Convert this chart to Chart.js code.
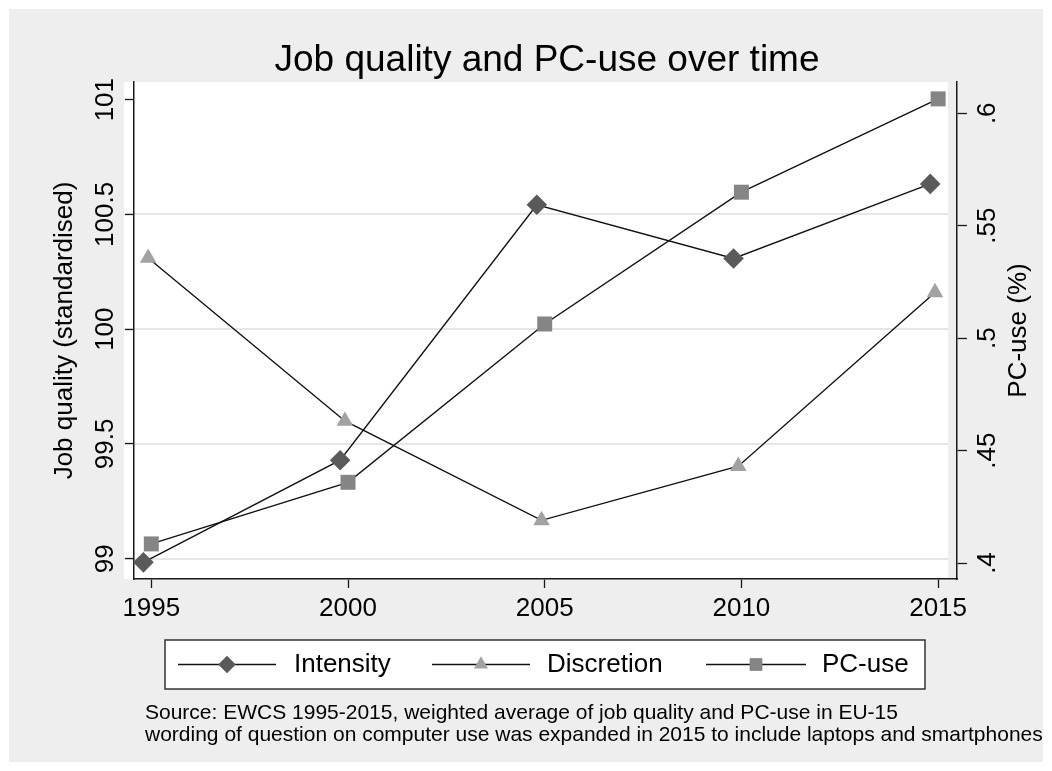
<!DOCTYPE html>
<html>
<head>
<meta charset="utf-8">
<script src="https://cdn.jsdelivr.net/npm/chart.js@4.4.0/dist/chart.umd.min.js"></script>
<style>
  html, body { margin: 0; padding: 0; background: #ffffff; }
</style>
</head>
<body>
<canvas id="jobChart" width="1052" height="771"></canvas>
<script>
const years = [1995, 2000, 2005, 2010, 2015];
// x positions as plotted (diamonds and triangles sit a little left of the year ticks)
const intensityX = [1994.8, 1999.8, 2004.8, 2009.8, 2014.8];
const discretionX = [1994.92, 1999.92, 2004.92, 2009.92, 2014.92];
const pcUseX = [1995, 2000, 2005, 2010, 2015];

const intensity = [98.984, 99.429, 100.542, 100.308, 100.633];
const discretion = [100.31, 99.60, 99.167, 99.403, 100.16];
const pcUse = [0.4085, 0.4359, 0.5063, 0.5649, 0.6064];

const leftTicks = [99, 99.5, 100, 100.5, 101];
const leftTickLabels = ['99', '99.5', '100', '100.5', '101'];
const rightTicks = [0.4, 0.45, 0.5, 0.55, 0.6];
const rightTickLabels = ['.4', '.45', '.5', '.55', '.6'];
const gridValues = [99, 99.5, 100, 100.5];

const seriesNames = ['Intensity', 'Discretion', 'PC-use'];
const chartTitle = 'Job quality and PC-use over time';
const leftTitle = 'Job quality (standardised)';
const rightTitle = 'PC-use (%)';
const noteLines = [
    'Source: EWCS 1995-2015, weighted average of job quality and PC-use in EU-15',
    'wording of question on computer use was expanded in 2015 to include laptops and smartphones'
];

const FONT = '"Liberation Sans", Arial, sans-serif';
const markerStyles = [
    { style: 'rectRot', color: '#5a5a5a', r: 10.3 },
    { style: 'triangle', color: '#a2a2a2', r: 9.6 },
    { style: 'rect', color: '#858585', r: 10.6 }
];

function toPoints(xs, ys) {
    return xs.map((x, i) => ({ x: x, y: ys[i] }));
}

function rotText(ctx, text, x, y) {
    ctx.save();
    ctx.translate(x, y);
    ctx.rotate(-Math.PI / 2);
    ctx.textAlign = 'center';
    ctx.textBaseline = 'alphabetic';
    ctx.fillText(text, 0, 0);
    ctx.restore();
}

function drawMarker(ctx, m, x, y, scale) {
    ctx.save();
    ctx.fillStyle = m.color;
    Chart.helpers.drawPoint(ctx, { pointStyle: m.style, radius: m.r * scale, borderWidth: 0, rotation: 0 }, x, y);
    ctx.restore();
}

// gray graph region, white plot region and light grid lines
const framePlugin = {
    id: 'stataFrame',
    beforeDraw(chart) {
        const { ctx, chartArea: ca } = chart;
        ctx.save();
        ctx.fillStyle = '#ffffff';
        ctx.fillRect(0, 0, chart.width, chart.height);
        ctx.fillStyle = '#eeeeee';
        ctx.fillRect(9, 9, 1034, 753);
        const px0 = ca.left - 10, px1 = ca.right - 9;
        ctx.fillStyle = '#ffffff';
        ctx.fillRect(px0, ca.top, px1 - px0, ca.bottom - ca.top);
        ctx.strokeStyle = '#e6e6e6';
        ctx.lineWidth = 2;
        gridValues.forEach(v => {
            const y = Math.round(chart.scales.y.getPixelForValue(v));
            ctx.beginPath();
            ctx.moveTo(px0, y);
            ctx.lineTo(px1, y);
            ctx.stroke();
        });
        ctx.restore();
    }
};

// titles, rotated tick labels, legend box and notes
const textPlugin = {
    id: 'stataText',
    afterDraw(chart) {
        const { ctx, chartArea: ca, scales } = chart;
        ctx.save();
        ctx.fillStyle = '#000000';
        ctx.font = '37px ' + FONT;
        ctx.textAlign = 'center';
        ctx.textBaseline = 'middle';
        ctx.fillText(chartTitle, 547, 61);

        ctx.font = '26px ' + FONT;
        leftTicks.forEach((v, i) => rotText(ctx, leftTickLabels[i], 113, scales.y.getPixelForValue(v)));
        rightTicks.forEach((v, i) => rotText(ctx, rightTickLabels[i], 995, scales.y1.getPixelForValue(v)));
        const midY = (ca.top + ca.bottom) / 2;
        rotText(ctx, leftTitle, 72, midY);
        rotText(ctx, rightTitle, 1026, midY);

        // legend
        const lx = 165, ly = 640, lw = 760, lh = 49, cy = ly + lh / 2;
        ctx.fillStyle = '#ffffff';
        ctx.fillRect(lx, ly, lw, lh);
        ctx.strokeStyle = '#333333';
        ctx.lineWidth = 1.5;
        ctx.strokeRect(lx, ly, lw, lh);
        const samples = [[178, 276, 294], [432, 530, 547], [706, 806, 822]];
        samples.forEach((s, i) => {
            ctx.strokeStyle = '#111111';
            ctx.lineWidth = 1.4;
            ctx.beginPath();
            ctx.moveTo(s[0], cy);
            ctx.lineTo(s[1], cy);
            ctx.stroke();
            drawMarker(ctx, markerStyles[i], (s[0] + s[1]) / 2, cy, 0.85);
            ctx.fillStyle = '#000000';
            ctx.font = '26px ' + FONT;
            ctx.textAlign = 'left';
            ctx.textBaseline = 'middle';
            ctx.fillText(seriesNames[i], s[2], cy);
        });

        ctx.font = '21px ' + FONT;
        ctx.textAlign = 'left';
        ctx.textBaseline = 'middle';
        ctx.fillText(noteLines[0], 145, 713);
        ctx.fillText(noteLines[1], 145, 735);
        ctx.restore();
    }
};

const axisColor = '#1a1a1a';

new Chart(document.getElementById('jobChart'), {
    type: 'line',
    data: {
        datasets: [
            {
                label: seriesNames[0],
                data: toPoints(intensityX, intensity),
                yAxisID: 'y',
                borderColor: '#111111',
                borderWidth: 1.4,
                pointStyle: markerStyles[0].style,
                pointRadius: markerStyles[0].r,
                pointBackgroundColor: markerStyles[0].color,
                pointBorderWidth: 0,
                clip: false,
                order: 3
            },
            {
                label: seriesNames[1],
                data: toPoints(discretionX, discretion),
                yAxisID: 'y',
                borderColor: '#111111',
                borderWidth: 1.4,
                pointStyle: markerStyles[1].style,
                pointRadius: markerStyles[1].r,
                pointBackgroundColor: markerStyles[1].color,
                pointBorderWidth: 0,
                clip: false,
                order: 2
            },
            {
                label: seriesNames[2],
                data: toPoints(pcUseX, pcUse),
                yAxisID: 'y1',
                borderColor: '#111111',
                borderWidth: 1.4,
                pointStyle: markerStyles[2].style,
                pointRadius: markerStyles[2].r,
                pointBackgroundColor: markerStyles[2].color,
                pointBorderWidth: 0,
                clip: false,
                order: 1
            }
        ]
    },
    options: {
        responsive: false,
        animation: false,
        layout: { padding: { top: 82, left: 0, right: 0, bottom: 0 } },
        plugins: {
            legend: { display: false },
            title: { display: false },
            tooltip: { enabled: false }
        },
        scales: {
            x: {
                type: 'linear',
                min: 1994.56,
                max: 2015.48,
                afterBuildTicks: scale => { scale.ticks = years.map(v => ({ value: v })); },
                afterFit: scale => { scale.height = 192; },
                ticks: {
                    color: '#000000',
                    font: { family: FONT, size: 26 },
                    padding: 5,
                    maxRotation: 0,
                    callback: v => String(v)
                },
                grid: { drawOnChartArea: false, drawTicks: true, tickLength: 9, tickColor: axisColor, tickWidth: 1.3 },
                border: { display: true, color: axisColor, width: 1.5 }
            },
            y: {
                type: 'linear',
                position: 'left',
                min: 98.9115,
                max: 101.077,
                afterBuildTicks: scale => { scale.ticks = leftTicks.map(v => ({ value: v })); },
                afterFit: scale => { scale.width = 134; },
                ticks: { display: false },
                grid: { drawOnChartArea: false, drawTicks: true, tickLength: 9, tickColor: axisColor, tickWidth: 1.3 },
                border: { display: true, color: axisColor, width: 1.5 }
            },
            y1: {
                type: 'linear',
                position: 'right',
                min: 0.3929,
                max: 0.6139,
                afterBuildTicks: scale => { scale.ticks = rightTicks.map(v => ({ value: v })); },
                afterFit: scale => { scale.width = 95; },
                ticks: { display: false },
                grid: { drawOnChartArea: false, drawTicks: true, tickLength: 10, tickColor: axisColor, tickWidth: 1.3 },
                border: { display: true, color: axisColor, width: 1.5 }
            }
        }
    },
    plugins: [framePlugin, textPlugin]
});
</script>
</body>
</html>
